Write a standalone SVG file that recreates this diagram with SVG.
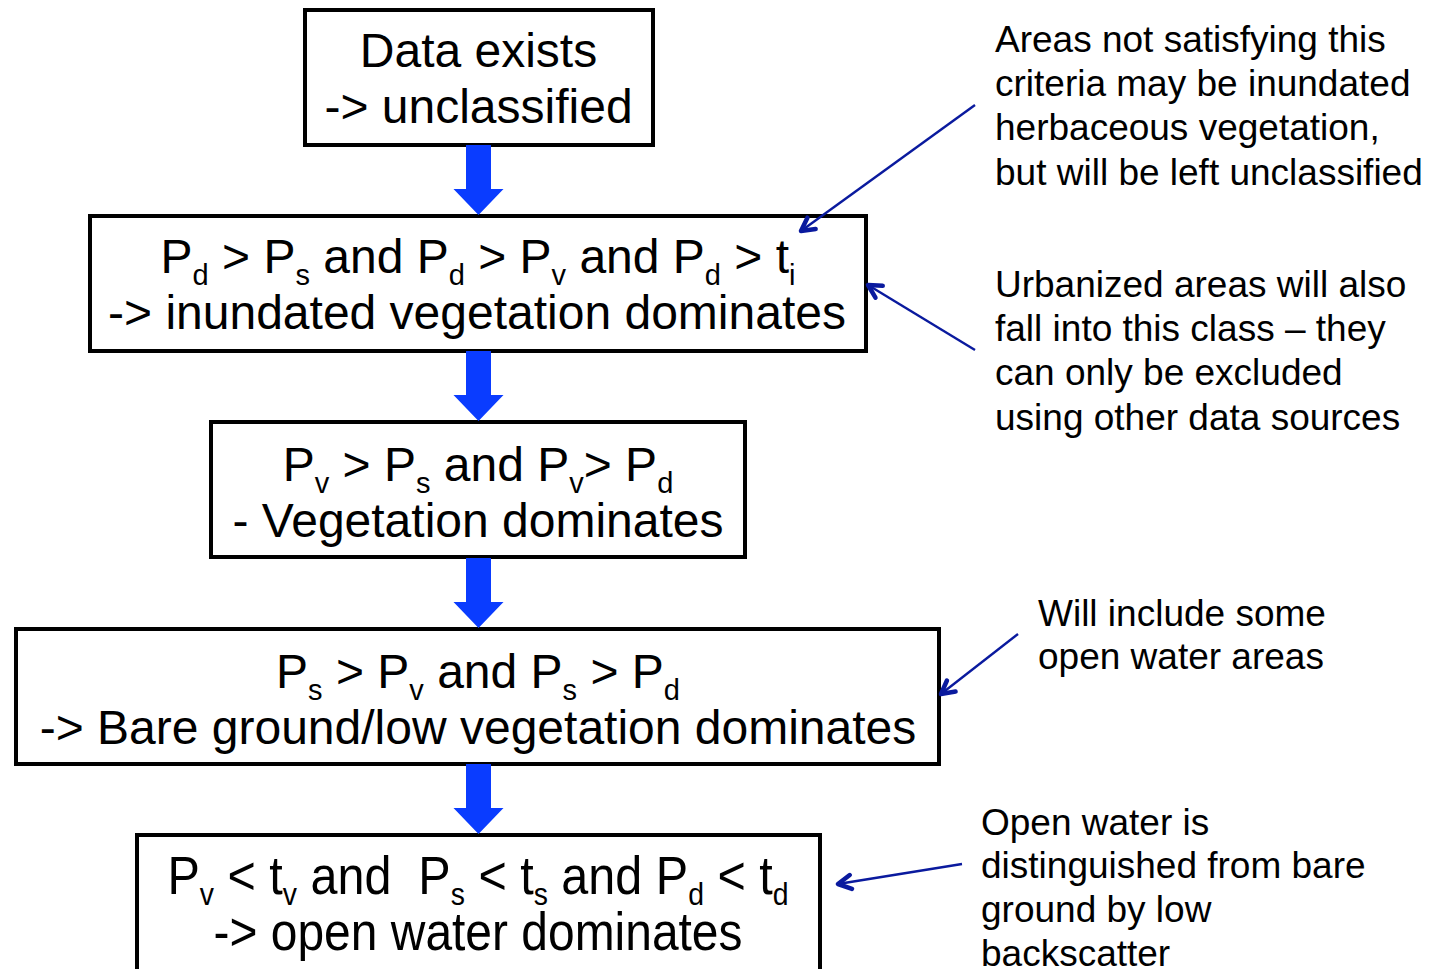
<svg xmlns="http://www.w3.org/2000/svg" width="1436" height="969" viewBox="0 0 1436 969">
<style>
.box{fill:#fff;stroke:#000;stroke-width:4}
.t{font-family:"Liberation Sans",Arial,sans-serif;font-size:48px;fill:#000;text-anchor:middle}
.sub{font-size:29px}
.sub5{font-size:31px}
.note{font-family:"Liberation Sans",Arial,sans-serif;font-size:37px;fill:#000}
.ann{stroke:#0A1A9E;stroke-width:2.4;fill:none}
.flow{fill:#0A3CFF}
</style>
<defs>
<marker id="vh" viewBox="0 0 20 20" refX="17" refY="10" markerWidth="20" markerHeight="20" markerUnits="userSpaceOnUse" orient="auto">
<path d="M4,3 L17,10 L4,17" fill="none" stroke="#0A1A9E" stroke-width="4.5" stroke-linecap="round" stroke-linejoin="round"/>
</marker>
<path id="bigArrow" d="M-12.5,0 H12.5 V44 H25 L0,70 L-25,44 H-12.5 Z"/>
</defs>
<rect width="1436" height="969" fill="#fff"/>

<g id="n1">
<rect class="box" x="305" y="10" width="348" height="135"/>
<text class="t" x="478.5" y="67">Data exists</text>
<text class="t" x="478.5" y="123">-&gt; unclassified</text>
</g>

<g id="n2">
<rect class="box" x="90" y="216" width="776" height="135"/>
<text class="t" x="478" y="273">P<tspan class="sub" dy="12">d</tspan><tspan dy="-12"> &gt; P</tspan><tspan class="sub" dy="12">s</tspan><tspan dy="-12"> and P</tspan><tspan class="sub" dy="12">d</tspan><tspan dy="-12"> &gt; P</tspan><tspan class="sub" dy="12">v</tspan><tspan dy="-12"> and P</tspan><tspan class="sub" dy="12">d</tspan><tspan dy="-12"> &gt; t</tspan><tspan class="sub" dy="12">i</tspan></text>
<text class="t" x="477" y="329">-&gt; inundated vegetation dominates</text>
</g>

<g id="n3">
<rect class="box" x="211" y="422" width="534" height="135"/>
<text class="t" x="478" y="481">P<tspan class="sub" dy="12">v</tspan><tspan dy="-12"> &gt; P</tspan><tspan class="sub" dy="12">s</tspan><tspan dy="-12"> and P</tspan><tspan class="sub" dy="12">v</tspan><tspan dy="-12">&gt; P</tspan><tspan class="sub" dy="12">d</tspan></text>
<text class="t" x="478" y="537">- Vegetation dominates</text>
</g>

<g id="n4">
<rect class="box" x="16" y="629" width="923" height="135"/>
<text class="t" x="478" y="688">P<tspan class="sub" dy="12">s</tspan><tspan dy="-12"> &gt; P</tspan><tspan class="sub" dy="12">v</tspan><tspan dy="-12"> and P</tspan><tspan class="sub" dy="12">s</tspan><tspan dy="-12"> &gt; P</tspan><tspan class="sub" dy="12">d</tspan></text>
<text class="t" x="478" y="744">-&gt; Bare ground/low vegetation dominates</text>
</g>

<g id="n5">
<rect class="box" x="137" y="835" width="683" height="160"/>
<text class="t" x="478" y="894" style="font-size:53px;white-space:pre" textLength="621" lengthAdjust="spacingAndGlyphs">P<tspan class="sub5" dy="11">v</tspan><tspan dy="-11"> &lt; t</tspan><tspan class="sub5" dy="11">v</tspan><tspan dy="-11"> and  P</tspan><tspan class="sub5" dy="11">s</tspan><tspan dy="-11"> &lt; t</tspan><tspan class="sub5" dy="11">s</tspan><tspan dy="-11"> and P</tspan><tspan class="sub5" dy="11">d</tspan><tspan dy="-11"> &lt; t</tspan><tspan class="sub5" dy="11">d</tspan></text>
<text class="t" x="478" y="950" style="font-size:53px" textLength="529" lengthAdjust="spacingAndGlyphs">-&gt; open water dominates</text>
</g>

<g id="connectors">
<use href="#bigArrow" class="flow" x="478.5" y="145"/>
<use href="#bigArrow" class="flow" x="478.5" y="351"/>
<use href="#bigArrow" class="flow" x="478.5" y="558"/>
<use href="#bigArrow" class="flow" x="478.5" y="764"/>
<line class="ann" x1="975" y1="105" x2="801" y2="231" marker-end="url(#vh)"/>
<line class="ann" x1="975" y1="350" x2="868" y2="285" marker-end="url(#vh)"/>
<line class="ann" x1="1018" y1="634" x2="941" y2="694" marker-end="url(#vh)"/>
<line class="ann" x1="962" y1="864" x2="838" y2="884" marker-end="url(#vh)"/>
</g>

<g id="note1">
<text class="note" x="995" y="52">Areas not satisfying this</text>
<text class="note" x="995" y="96">criteria may be inundated</text>
<text class="note" x="995" y="140">herbaceous vegetation,</text>
<text class="note" x="995" y="185">but will be left unclassified</text>
</g>
<g id="note2">
<text class="note" x="995" y="297">Urbanized areas will also</text>
<text class="note" x="995" y="341">fall into this class – they</text>
<text class="note" x="995" y="385">can only be excluded</text>
<text class="note" x="995" y="430">using other data sources</text>
</g>
<g id="note3">
<text class="note" x="1038" y="626">Will include some</text>
<text class="note" x="1038" y="669">open water areas</text>
</g>
<g id="note4">
<text class="note" x="981" y="835">Open water is</text>
<text class="note" x="981" y="878">distinguished from bare</text>
<text class="note" x="981" y="922">ground by low</text>
<text class="note" x="981" y="966">backscatter</text>
</g>
</svg>
